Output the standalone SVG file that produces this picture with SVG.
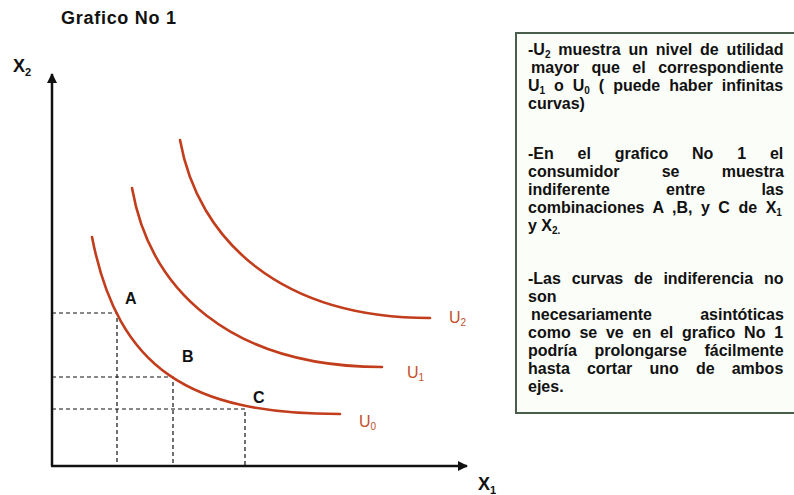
<svg xmlns="http://www.w3.org/2000/svg" width="794" height="495" viewBox="0 0 794 495">
<defs>
<style>
.t{font-family:"Liberation Sans",Arial,sans-serif;font-weight:bold;fill:#111}
.box{font-family:"Liberation Sans",Arial,sans-serif;font-weight:bold;font-size:16px;fill:#111}
.s{font-size:10px}
.u{font-family:"Liberation Sans",Arial,sans-serif;font-size:16px;fill:#c2502a}
.curve{fill:none;stroke:#c23d1c;stroke-width:2.6;stroke-linecap:round}
.dash{fill:none;stroke:#111;stroke-width:1.2;stroke-dasharray:4 3}
.axis{fill:none;stroke:#111;stroke-width:2.5}
</style>
<marker id="arr" viewBox="0 0 10 10" refX="9" refY="5" markerWidth="4" markerHeight="4" orient="auto" markerUnits="strokeWidth">
<path d="M0,0 L10,5 L0,10 z" fill="#111"/>
</marker>
</defs>
<rect width="794" height="495" fill="#ffffff"/>
<text class="t" x="61" y="24" font-size="18" textLength="115">Grafico No 1</text>
<g id="axes">
<line class="axis" x1="52" y1="466" x2="52" y2="74" marker-end="url(#arr)"/>
<line class="axis" x1="51" y1="466" x2="467" y2="466" marker-end="url(#arr)"/>
<text class="t" x="13" y="72" font-size="18">X<tspan font-size="11" dy="4">2</tspan></text>
<text class="t" x="478" y="490" font-size="18">X<tspan font-size="11" dy="4">1</tspan></text>
</g>
<g id="guides">
<path class="dash" d="M52,313 H117 V466 M52,377 H173 V466 M52,409 H245 V466"/>
</g>
<g id="curves">
<g id="U0"><path class="curve" d="M92,237 C118,370 190,414 340,414"/><text class="u" x="359" y="427">U<tspan font-size="10" dy="3">0</tspan></text></g>
<g id="U1"><path class="curve" d="M132,188 C150,290 230,367 382,367"/><text class="u" x="407" y="378">U<tspan font-size="10" dy="3">1</tspan></text></g>
<g id="U2"><path class="curve" d="M180,140 C198,240 280,318 430,318"/><text class="u" x="449" y="323">U<tspan font-size="10" dy="3">2</tspan></text></g>
</g>
<g id="points">
<text class="t" x="125" y="304" font-size="16">A</text>
<text class="t" x="182" y="362" font-size="16">B</text>
<text class="t" x="253" y="403" font-size="16">C</text>
</g>
<g id="notes">
<rect x="516" y="33" width="290" height="380" fill="#fbfdf8" stroke="#4a5e4c" stroke-width="2"/>
<g class="box">
<text x="528" y="55" word-spacing="3.4">-U<tspan class="s" dy="3">2</tspan><tspan dy="-3"> muestra un nivel de utilidad</tspan></text>
<text x="531" y="73" word-spacing="8">mayor que el correspondiente</text>
<text x="528" y="91" word-spacing="4.5">U<tspan class="s" dy="3">1</tspan><tspan dy="-3"> o U</tspan><tspan class="s" dy="3">0</tspan><tspan dy="-3"> ( puede haber infinitas</tspan></text>
<text x="528" y="109">curvas)</text>
<text x="528" y="159" word-spacing="19.4">-En el grafico No 1 el</text>
<text x="528" y="177" word-spacing="37.7">consumidor se muestra</text>
<text x="528" y="195" word-spacing="51.8">indiferente entre las</text>
<text x="528" y="213" word-spacing="4.1">combinaciones A ,B, y C de X<tspan class="s" dy="3">1</tspan></text>
<text x="528" y="231">y X<tspan class="s" dy="3">2.</tspan></text>
<text x="528" y="284" word-spacing="6.3">-Las curvas de indiferencia no</text>
<text x="528" y="302">son</text>
<text x="531" y="320" word-spacing="43.8">necesariamente asintóticas</text>
<text x="528" y="338" word-spacing="4.3">como se ve en el grafico No 1</text>
<text x="528" y="356" word-spacing="13.1">podría prolongarse fácilmente</text>
<text x="528" y="374" word-spacing="12.7">hasta cortar uno de ambos</text>
<text x="528" y="392">ejes.</text>
</g>
</g>
</svg>
